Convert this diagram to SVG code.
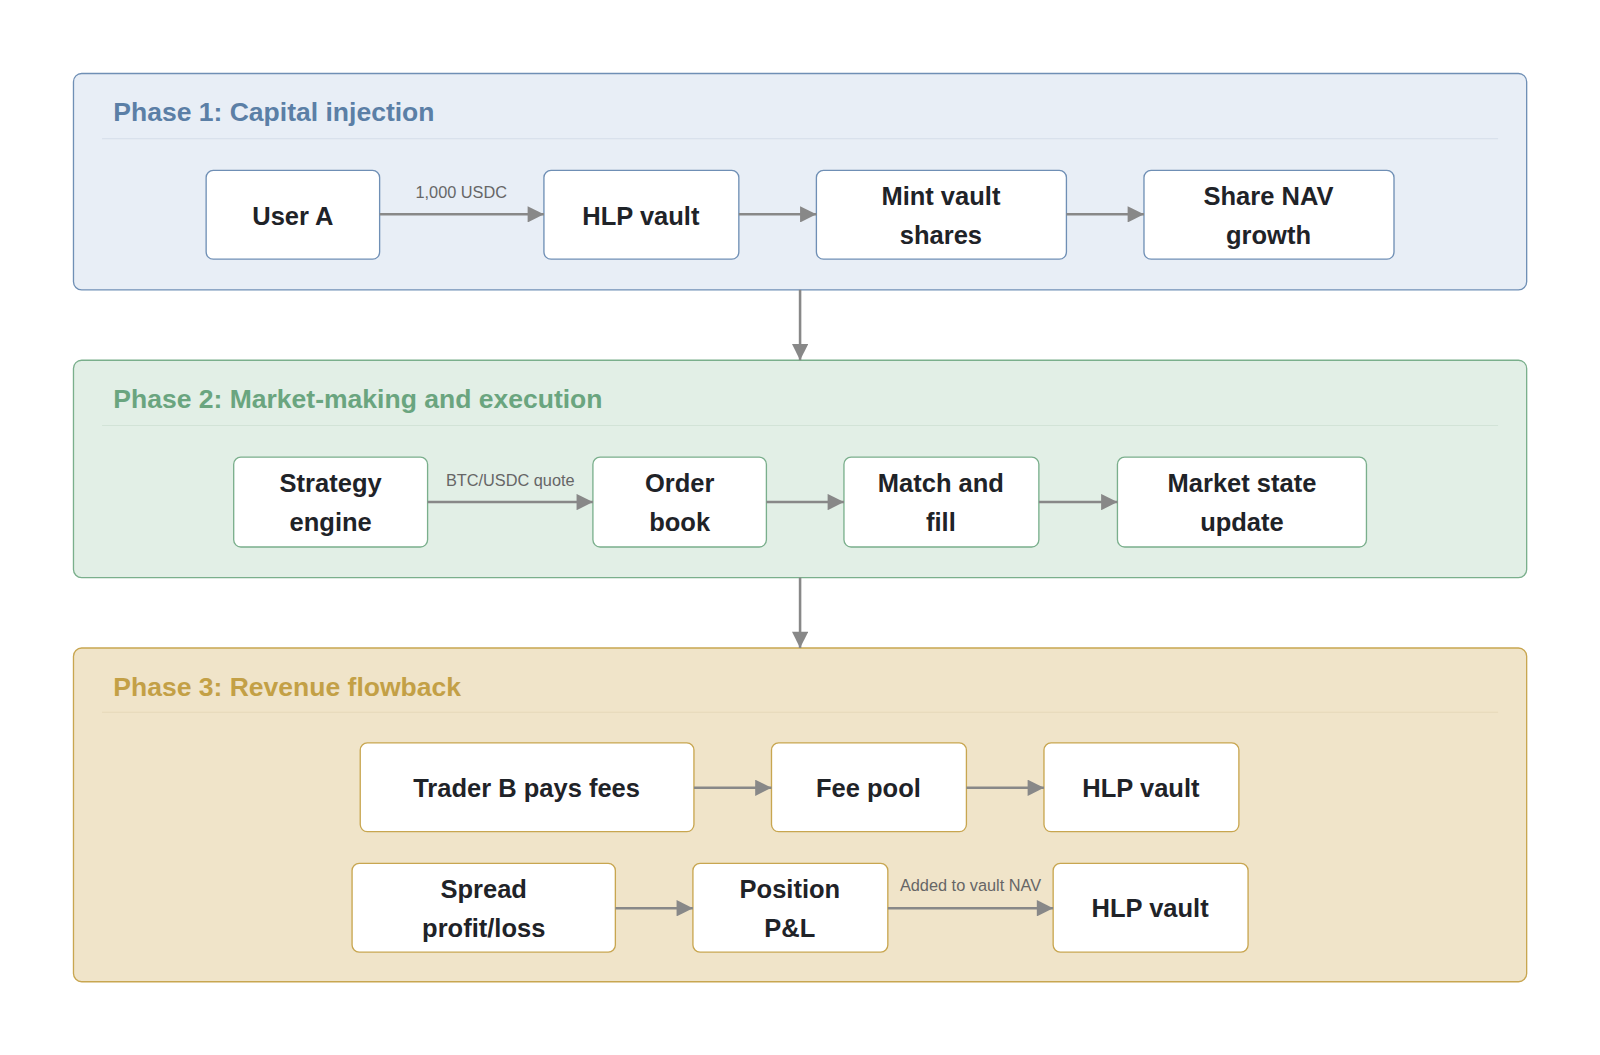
<svg xmlns="http://www.w3.org/2000/svg" width="1600" height="1055" viewBox="0 0 1600 1055">
<style>
.t{font-family:"Liberation Sans",Arial,sans-serif;font-size:25px;font-weight:bold;fill:#1f2328;text-anchor:middle}
.pt{font-family:"Liberation Sans",Arial,sans-serif;font-size:26px;font-weight:bold}
.lb{font-family:"Liberation Sans",Arial,sans-serif;font-size:16px;fill:#666;text-anchor:middle}
.n{fill:#fff;stroke-width:1.3}
.c{stroke:#888;stroke-width:2.5;fill:none;marker-end:url(#a)}
</style>
<defs><marker id="a" viewBox="0 0 10 10" refX="10" refY="5" markerWidth="18" markerHeight="16" markerUnits="userSpaceOnUse" orient="auto"><path d="M0,0L10,5L0,10z" fill="#888"/></marker></defs>
<rect width="1600" height="1055" fill="#fff"/>
<g transform="scale(1.0205)">
<g id="phase1"><rect x="72" y="72" width="1424" height="212" rx="8" fill="#e8eef6" stroke="#6f8fb5" stroke-width="1.3"/><text x="111" y="119" class="pt" fill="#5b7fa6">Phase 1: Capital injection</text><line x1="100" y1="136" x2="1468" y2="136" stroke="#d5dde8"/></g>
<g id="phase2"><rect x="72" y="353" width="1424" height="213" rx="8" fill="#e2efe6" stroke="#7aaf8c" stroke-width="1.3"/><text x="111" y="400" class="pt" fill="#6aa57f">Phase 2: Market-making and execution</text><line x1="100" y1="417" x2="1468" y2="417" stroke="#d2e3d7"/></g>
<g id="phase3"><rect x="72" y="635" width="1424" height="327" rx="8" fill="#f0e4c9" stroke="#c8a650" stroke-width="1.3"/><text x="111" y="682" class="pt" fill="#c3a046">Phase 3: Revenue flowback</text><line x1="100" y1="698" x2="1468" y2="698" stroke="#e6d8b8"/></g>
<g id="n1"><rect class="n" stroke="#6f8fb5" x="202" y="167" width="170" height="87" rx="7"/><text class="t" x="287" y="220">User A</text></g>
<g id="n2"><rect class="n" stroke="#6f8fb5" x="533" y="167" width="191" height="87" rx="7"/><text class="t" x="628" y="220">HLP vault</text></g>
<g id="n3"><rect class="n" stroke="#6f8fb5" x="800" y="167" width="245" height="87" rx="7"/><text class="t" x="922" y="201">Mint vault</text><text class="t" x="922" y="239">shares</text></g>
<g id="n4"><rect class="n" stroke="#6f8fb5" x="1121" y="167" width="245" height="87" rx="7"/><text class="t" x="1243" y="201">Share NAV</text><text class="t" x="1243" y="239">growth</text></g>
<g id="n5"><rect class="n" stroke="#7aaf8c" x="229" y="448" width="190" height="88" rx="7"/><text class="t" x="324" y="482">Strategy</text><text class="t" x="324" y="520">engine</text></g>
<g id="n6"><rect class="n" stroke="#7aaf8c" x="581" y="448" width="170" height="88" rx="7"/><text class="t" x="666" y="482">Order</text><text class="t" x="666" y="520">book</text></g>
<g id="n7"><rect class="n" stroke="#7aaf8c" x="827" y="448" width="191" height="88" rx="7"/><text class="t" x="922" y="482">Match and</text><text class="t" x="922" y="520">fill</text></g>
<g id="n8"><rect class="n" stroke="#7aaf8c" x="1095" y="448" width="244" height="88" rx="7"/><text class="t" x="1217" y="482">Market state</text><text class="t" x="1217" y="520">update</text></g>
<g id="n9"><rect class="n" stroke="#c8a650" x="353" y="728" width="327" height="87" rx="7"/><text class="t" x="516" y="781">Trader B pays fees</text></g>
<g id="n10"><rect class="n" stroke="#c8a650" x="756" y="728" width="191" height="87" rx="7"/><text class="t" x="851" y="781">Fee pool</text></g>
<g id="n11"><rect class="n" stroke="#c8a650" x="1023" y="728" width="191" height="87" rx="7"/><text class="t" x="1118" y="781">HLP vault</text></g>
<g id="n12"><rect class="n" stroke="#c8a650" x="345" y="846" width="258" height="87" rx="7"/><text class="t" x="474" y="880">Spread</text><text class="t" x="474" y="918">profit/loss</text></g>
<g id="n13"><rect class="n" stroke="#c8a650" x="679" y="846" width="191" height="87" rx="7"/><text class="t" x="774" y="880">Position</text><text class="t" x="774" y="918">P&amp;L</text></g>
<g id="n14"><rect class="n" stroke="#c8a650" x="1032" y="846" width="191" height="87" rx="7"/><text class="t" x="1127" y="899">HLP vault</text></g>
<g id="connectors">
<path class="c" d="M372,210H533"/><text class="lb" x="452" y="194">1,000 USDC</text>
<path class="c" d="M724,210H800"/><path class="c" d="M1045,210H1121"/>
<path class="c" d="M784,284V353"/><path class="c" d="M784,566V635"/>
<path class="c" d="M419,492H581"/><text class="lb" x="500" y="476">BTC/USDC quote</text>
<path class="c" d="M751,492H827"/><path class="c" d="M1018,492H1095"/>
<path class="c" d="M680,772H756"/><path class="c" d="M947,772H1023"/>
<path class="c" d="M603,890H679"/><path class="c" d="M870,890H1032"/><text class="lb" x="951" y="873">Added to vault NAV</text>
</g>
</g>
</svg>
